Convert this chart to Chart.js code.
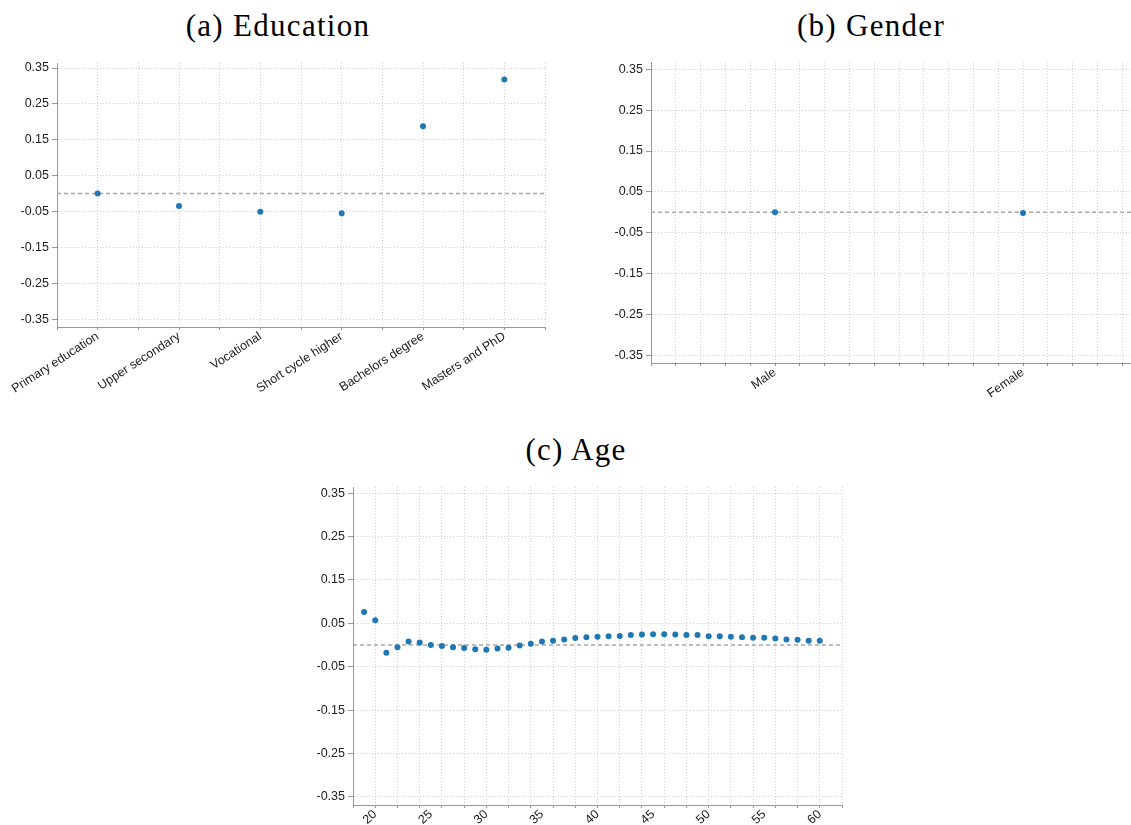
<!DOCTYPE html>
<html>
<head>
<meta charset="utf-8">
<script src="https://cdn.jsdelivr.net/npm/chart.js"></script>
<style>
  body { margin: 0; width: 1131px; height: 825px; overflow: hidden; background: #fff; position: relative; }
  .titulo { position: absolute; font-family: "Liberation Serif", "Times New Roman", serif; font-size: 31px; color: #000; white-space: nowrap; transform: translateX(-50%); letter-spacing: 1.3px; }
  canvas { position: absolute; }
</style>
</head>
<body>
<div class="titulo" style="left:278px; top:8px;">(a) Education</div>
<div class="titulo" style="left:871px; top:8px;">(b) Gender</div>
<div class="titulo" style="left:576px; top:432px;">(c) Age</div>

<canvas id="graficoEducacion" width="560" height="360" style="left:0px; top:51px;"></canvas>
<canvas id="graficoGenero" width="572" height="361" style="left:590px; top:50px;"></canvas>
<canvas id="graficoEdad" width="570" height="350" style="left:290px; top:475px;"></canvas>

<script>
// Datos
const categoriasEducacion = ['Primary education', 'Upper secondary', 'Vocational', 'Short cycle higher', 'Bachelors degree', 'Masters and PhD'];
const valoresEducacion = [0.0, -0.035, -0.051, -0.055, 0.188, 0.318];

const categoriasGenero = ['Male', 'Female'];
const valoresGenero = [0.0, -0.002];

const edades = [19, 20, 21, 22, 23, 24, 25, 26, 27, 28, 29, 30, 31, 32, 33, 34, 35, 36, 37, 38, 39, 40,
                41, 42, 43, 44, 45, 46, 47, 48, 49, 50, 51, 52, 53, 54, 55, 56, 57, 58, 59, 60];
const valoresEdad = [0.076, 0.057, -0.018, -0.005, 0.008, 0.006, 0.0, -0.002, -0.005, -0.007, -0.010, -0.011,
                     -0.008, -0.006, -0.001, 0.003, 0.008, 0.010, 0.013, 0.016, 0.018, 0.019,
                     0.020, 0.021, 0.023, 0.024, 0.025, 0.025, 0.024, 0.023, 0.023, 0.020,
                     0.020, 0.019, 0.018, 0.017, 0.017, 0.015, 0.013, 0.012, 0.010, 0.010];

const ticksY = [-0.35, -0.25, -0.15, -0.05, 0.05, 0.15, 0.25, 0.35];
const etiquetasEdad = [20, 25, 30, 35, 40, 45, 50, 55, 60];

Chart.defaults.font.family = '"Liberation Sans", Arial, sans-serif';
Chart.defaults.font.size = 12.5;
Chart.defaults.color = '#222';
Chart.defaults.animation = false;

const colorPunto = '#1f77b4';
const colorGrid = '#cfcfcf';
const colorEje = '#999';

// Linea punteada en cero
const lineaCero = {
    id: 'lineaCero',
    beforeDatasetsDraw(chart) {
        const { ctx, chartArea, scales } = chart;
        const py = scales.y.getPixelForValue(0);
        ctx.save();
        ctx.strokeStyle = '#a8a8a8';
        ctx.lineWidth = 1.5;
        ctx.setLineDash([4, 3]);
        ctx.beginPath();
        ctx.moveTo(chartArea.left, py);
        ctx.lineTo(chartArea.right, py);
        ctx.stroke();
        ctx.restore();
    }
};

function ejeY(min, max, ancho) {
    return {
        min: min,
        max: max,
        afterBuildTicks: s => { s.ticks = ticksY.map(v => ({ value: v })); },
        afterFit: s => { s.width = ancho; },
        ticks: { callback: v => v.toFixed(2), padding: 3 },
        grid: { color: colorGrid, tickColor: colorEje, tickLength: 5, tickBorderDash: [] },
        border: { color: colorEje, width: 1, dash: [1, 2] }
    };
}

function ejeX(min, max, listaTicks, etiqueta, alto, rotacion, gridVisible) {
    return {
        type: 'linear',
        min: min,
        max: max,
        afterBuildTicks: s => { s.ticks = listaTicks.map(v => ({ value: v })); },
        afterFit: s => { s.height = alto; },
        ticks: { autoSkip: false, minRotation: rotacion, maxRotation: rotacion, padding: -1, callback: etiqueta },
        grid: {
            color: c => (gridVisible(c.tick.value) ? colorGrid : 'rgba(0,0,0,0)'),
            tickColor: c => (gridVisible(c.tick.value) ? colorEje : 'rgba(0,0,0,0)'),
            tickLength: 3,
            tickBorderDash: []
        },
        border: { color: colorEje, width: 1, dash: [1, 2] }
    };
}

function opcionesBase(escalas, padding) {
    return {
        responsive: false,
        layout: { padding: padding },
        plugins: { legend: { display: false }, tooltip: { enabled: false } },
        scales: escalas
    };
}

function dataset(xs, ys) {
    return [{
        data: xs.map((x, i) => ({ x: x, y: ys[i] })),
        backgroundColor: colorPunto,
        borderWidth: 0,
        pointRadius: 3
    }];
}

const esEntero = v => Math.abs(v - Math.round(v)) < 1e-9;

// (a) Educacion
const ticksEducacion = [];
for (let i = 0; i <= categoriasEducacion.length * 2; i++) ticksEducacion.push(i / 2 - 0.5);

new Chart(document.getElementById('graficoEducacion'), {
    type: 'scatter',
    data: { datasets: dataset(categoriasEducacion.map((c, i) => i), valoresEducacion) },
    options: opcionesBase({
        x: ejeX(-0.5, categoriasEducacion.length - 0.5, ticksEducacion,
            v => (esEntero(v) && v >= 0 ? categoriasEducacion[Math.round(v)] : ''), 84, 33, () => true),
        y: ejeY(-0.372, 0.364, 57)
    }, { top: 12, right: 15, left: 0, bottom: 0 }),
    plugins: [lineaCero]
});

// (b) Genero
const ticksGenero = [];
for (let i = 0; i <= 20; i++) ticksGenero.push((i - 5) / 10);

new Chart(document.getElementById('graficoGenero'), {
    type: 'scatter',
    data: { datasets: dataset(categoriasGenero.map((c, i) => i), valoresGenero) },
    options: opcionesBase({
        x: ejeX(-0.5, 1.5, ticksGenero,
            v => (esEntero(v) && v >= 0 && v < categoriasGenero.length ? categoriasGenero[Math.round(v)] : ''), 48, 35, () => true),
        y: ejeY(-0.369, 0.368, 61)
    }, { top: 12, right: 15, left: 0, bottom: 0 }),
    plugins: [lineaCero]
});

// (c) Edad
const ticksEdad = [];
for (let a = 18; a <= 62; a++) {
    if (a % 2 === 0 || etiquetasEdad.includes(a)) ticksEdad.push(a);
}

new Chart(document.getElementById('graficoEdad'), {
    type: 'scatter',
    data: { datasets: dataset(edades, valoresEdad) },
    options: opcionesBase({
        x: ejeX(18, 62, ticksEdad,
            v => (etiquetasEdad.includes(v) ? String(v) : ''), 20, 42, v => v % 2 === 0),
        y: ejeY(-0.369, 0.3645, 63)
    }, { top: 12, right: 18, left: 0, bottom: 0 }),
    plugins: [lineaCero]
});
</script>
</body>
</html>
